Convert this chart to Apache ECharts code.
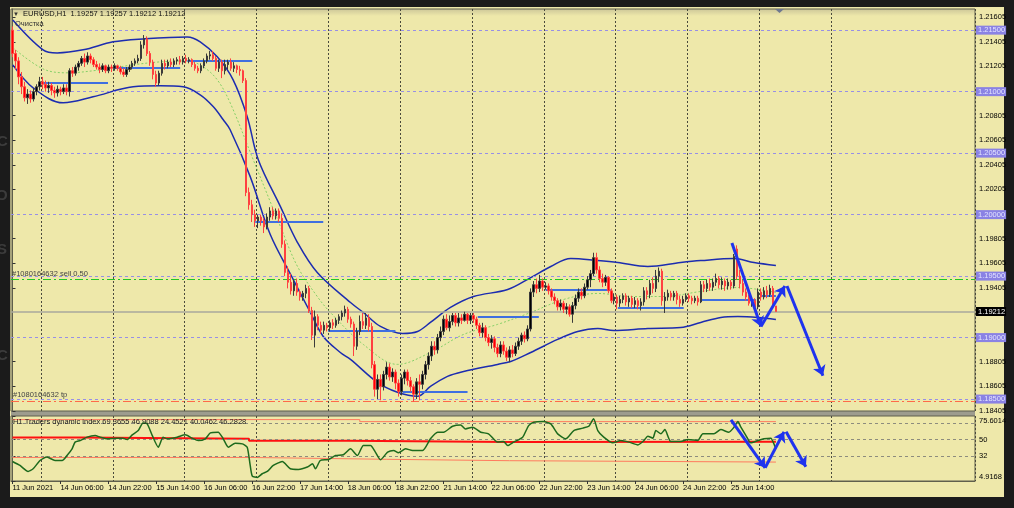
<!DOCTYPE html>
<html><head><meta charset="utf-8">
<script src="https://cdn.jsdelivr.net/npm/echarts@6.0.0/dist/echarts.min.js"></script>
<style>html,body{margin:0;padding:0;background:#1b1b1b;}#c{width:1014px;height:508px;}</style>
</head><body><div id="c"></div>
<script>
// ---------- data ----------
const timeLabels = ['11 Jun 2021','14 Jun 06:00','14 Jun 22:00','15 Jun 14:00','16 Jun 06:00','16 Jun 22:00','17 Jun 14:00','18 Jun 06:00','18 Jun 22:00','21 Jun 14:00','22 Jun 06:00','22 Jun 22:00','23 Jun 14:00','24 Jun 06:00','24 Jun 22:00','25 Jun 14:00'];
const dayStarts = [10,34,58,82,106,130,154,178,202,226,250,274];
const priceTicks = [1.21605,1.21405,1.21205,1.20805,1.20605,1.20405,1.20205,1.19805,1.19605,1.19405,1.18805,1.18605,1.18405];
const alertLevels = [1.215,1.21,1.205,1.2,1.195,1.19,1.185];
const bidPrice = 1.19212;
const sellPrice = 1.19476;
const tpPrice = 1.18484;

const opens = [1.2150,1.2131,1.2125,1.2112,1.2104,1.2095,1.2098,1.2094,1.2100,1.2104,1.2108,1.2106,1.2103,1.2105,1.2101,1.2099,1.2102,1.2100,1.2103,1.2100,
1.2117,1.2115,1.2120,1.2123,1.2127,1.2124,1.2129,1.2126,1.2122,1.2120,1.2118,1.2121,1.2117,1.2120,1.2119,1.2121,1.2119,1.2116,1.2114,1.2118,
1.2120,1.2123,1.2125,1.2127,1.2138,1.2143,1.2131,1.2124,1.2114,1.2107,1.2115,1.2123,1.2121,1.2124,1.2122,1.2125,1.2126,1.2124,1.2127,1.2125,
1.2126,1.2122,1.2119,1.2117,1.2121,1.2125,1.2129,1.2130,1.2127,1.2119,1.2124,1.2117,1.2122,1.2124,1.2119,1.2121,1.2118,1.2117,1.2109,1.2018,
1.2008,1.2000,1.1995,1.1998,1.1995,1.1990,1.1998,1.2003,1.1999,1.2003,1.1997,1.1976,1.1953,1.1945,1.1938,1.1944,1.1937,1.1933,1.1936,1.1940,
1.1922,1.1902,1.1917,1.1910,1.1906,1.1910,1.1908,1.1912,1.1910,1.1914,1.1917,1.1920,1.1923,1.1915,1.1911,1.1893,1.1905,1.1913,1.1910,1.1916,
1.1909,1.1878,1.1858,1.1866,1.1860,1.1870,1.1876,1.1868,1.1872,1.1863,1.1856,1.1867,1.1872,1.1865,1.1860,1.1854,1.1864,1.1862,1.1870,1.1878,
1.1885,1.1893,1.1890,1.1900,1.1905,1.1915,1.1908,1.1913,1.1918,1.1912,1.1916,1.1914,1.1919,1.1914,1.1918,1.1915,1.1910,1.1904,1.1908,1.1900,
1.1896,1.1899,1.1892,1.1887,1.1894,1.1889,1.1884,1.1890,1.1887,1.1893,1.1897,1.1902,1.1899,1.1907,1.1937,1.1943,1.1940,1.1946,1.1941,1.1942,
1.1938,1.1933,1.1930,1.1925,1.1928,1.1923,1.1925,1.1919,1.1926,1.1932,1.1937,1.1934,1.1941,1.1947,1.1952,1.1965,1.1955,1.1948,1.1945,1.1949,
1.1938,1.1930,1.1933,1.1928,1.1931,1.1934,1.1929,1.1932,1.1927,1.1930,1.1926,1.1929,1.1938,1.1935,1.1944,1.1940,1.1950,1.1954,1.1930,1.1933,
1.1936,1.1933,1.1936,1.1931,1.1928,1.1931,1.1934,1.1932,1.1930,1.1932,1.1929,1.1943,1.1940,1.1944,1.1941,1.1945,1.1948,1.1943,1.1946,1.1942,
1.1945,1.1942,1.1972,1.1950,1.1944,1.1937,1.1933,1.1928,1.1930,1.1925,1.1937,1.1933,1.1938,1.1935,1.1940,1.19257];
const closes = [1.2131,1.2125,1.2112,1.2104,1.2095,1.2098,1.2094,1.2100,1.2104,1.2108,1.2106,1.2103,1.2105,1.2101,1.2099,1.2102,1.2100,1.2103,1.2100,1.2117,
1.2115,1.2120,1.2123,1.2127,1.2124,1.2129,1.2126,1.2122,1.2120,1.2118,1.2121,1.2117,1.2120,1.2119,1.2121,1.2119,1.2116,1.2114,1.2118,1.2120,
1.2123,1.2125,1.2127,1.2138,1.2143,1.2131,1.2124,1.2114,1.2107,1.2115,1.2123,1.2121,1.2124,1.2122,1.2125,1.2126,1.2124,1.2127,1.2125,1.2126,
1.2122,1.2119,1.2117,1.2121,1.2125,1.2129,1.2130,1.2127,1.2119,1.2124,1.2117,1.2122,1.2124,1.2119,1.2121,1.2118,1.2117,1.2109,1.2018,1.2008,
1.2000,1.1995,1.1998,1.1995,1.1990,1.1998,1.2003,1.1999,1.2003,1.1997,1.1976,1.1953,1.1945,1.1938,1.1944,1.1937,1.1933,1.1936,1.1940,1.1922,
1.1902,1.1917,1.1910,1.1906,1.1910,1.1908,1.1912,1.1910,1.1914,1.1917,1.1920,1.1923,1.1915,1.1911,1.1893,1.1905,1.1913,1.1910,1.1916,1.1909,
1.1878,1.1858,1.1866,1.1860,1.1870,1.1876,1.1868,1.1872,1.1863,1.1856,1.1867,1.1872,1.1865,1.1860,1.1854,1.1864,1.1862,1.1870,1.1878,1.1885,
1.1893,1.1890,1.1900,1.1905,1.1915,1.1908,1.1913,1.1918,1.1912,1.1916,1.1914,1.1919,1.1914,1.1918,1.1915,1.1910,1.1904,1.1908,1.1900,1.1896,
1.1899,1.1892,1.1887,1.1894,1.1889,1.1884,1.1890,1.1887,1.1893,1.1897,1.1902,1.1899,1.1907,1.1937,1.1943,1.1940,1.1946,1.1941,1.1942,1.1938,
1.1933,1.1930,1.1925,1.1928,1.1923,1.1925,1.1919,1.1926,1.1932,1.1937,1.1934,1.1941,1.1947,1.1952,1.1965,1.1955,1.1948,1.1945,1.1949,1.1938,
1.1930,1.1933,1.1928,1.1931,1.1934,1.1929,1.1932,1.1927,1.1930,1.1926,1.1929,1.1938,1.1935,1.1944,1.1940,1.1950,1.1954,1.1930,1.1933,1.1936,
1.1933,1.1936,1.1931,1.1928,1.1931,1.1934,1.1932,1.1930,1.1932,1.1929,1.1943,1.1940,1.1944,1.1941,1.1945,1.1948,1.1943,1.1946,1.1942,1.1945,
1.1942,1.1966,1.1950,1.1944,1.1937,1.1933,1.1928,1.1930,1.1925,1.1937,1.1933,1.1938,1.1935,1.1940,1.1926,1.19212];
const lows = [1.2128,1.2118,1.2106,1.2098,1.2092,1.2090,1.2091,1.2092,1.2097,1.2101,1.2102,1.2100,1.2099,1.2097,1.2095,1.2096,1.2097,1.2098,1.2097,1.2096,
1.2112,1.2113,1.2117,1.2121,1.2120,1.2122,1.2123,1.2120,1.2118,1.2115,1.2116,1.2115,1.2115,1.2116,1.2117,1.2117,1.2114,1.2112,1.2112,1.2116,
1.2118,1.2121,1.2123,1.2125,1.2135,1.2129,1.2121,1.2110,1.2104,1.2105,1.2113,1.2118,1.2119,1.2120,1.2120,1.2122,1.2122,1.2122,1.2123,1.2123,
1.2120,1.2117,1.2115,1.2115,1.2119,1.2123,1.2126,1.2125,1.2117,1.2116,1.2111,1.2114,1.2118,1.2117,1.2116,1.2115,1.2113,1.2107,1.2015,1.2004,
1.1994,1.1990,1.1989,1.1991,1.1985,1.1988,1.1995,1.1996,1.1996,1.1994,1.1973,1.1950,1.1940,1.1935,1.1934,1.1934,1.1930,1.1930,1.1932,1.1920,
1.1898,1.1892,1.1906,1.1903,1.1903,1.1905,1.1905,1.1907,1.1908,1.1911,1.1914,1.1917,1.1912,1.1908,1.1885,1.1890,1.1902,1.1907,1.1907,1.1905,
1.1875,1.1852,1.1850,1.1849,1.1857,1.1866,1.1865,1.1864,1.1858,1.1852,1.1853,1.1862,1.1861,1.1856,1.1848,1.1850,1.1849,1.1858,1.1866,1.1874,
1.1881,1.1886,1.1887,1.1897,1.1902,1.1906,1.1905,1.1910,1.1909,1.1909,1.1911,1.1913,1.1911,1.1911,1.1912,1.1907,1.1901,1.1900,1.1897,1.1893,
1.1891,1.1888,1.1884,1.1884,1.1886,1.1881,1.1880,1.1884,1.1885,1.1890,1.1894,1.1896,1.1897,1.1905,1.1933,1.1936,1.1937,1.1938,1.1939,1.1935,
1.1930,1.1927,1.1922,1.1922,1.1920,1.1919,1.1917,1.1912,1.1923,1.1929,1.1931,1.1932,1.1939,1.1941,1.1950,1.1952,1.1945,1.1941,1.1942,1.1936,
1.1928,1.1927,1.1923,1.1925,1.1928,1.1926,1.1925,1.1924,1.1924,1.1923,1.1922,1.1926,1.1931,1.1932,1.1936,1.1937,1.1945,1.1926,1.1920,1.1930,
1.1930,1.1930,1.1927,1.1925,1.1926,1.1929,1.1929,1.1927,1.1928,1.1926,1.1928,1.1937,1.1937,1.1938,1.1938,1.1942,1.1940,1.1939,1.1938,1.1939,
1.1939,1.1940,1.1947,1.1940,1.1934,1.1930,1.1926,1.1925,1.1922,1.1923,1.1930,1.1931,1.1932,1.1933,1.1924,1.19212];
const highs = [1.2153,1.2134,1.2128,1.2116,1.2108,1.2102,1.2101,1.2103,1.2106,1.2112,1.2112,1.2109,1.2108,1.2107,1.2104,1.2105,1.2104,1.2106,1.2106,1.2119,
1.2120,1.2122,1.2125,1.2129,1.2131,1.2132,1.2131,1.2128,1.2125,1.2123,1.2123,1.2122,1.2122,1.2122,1.2123,1.2122,1.2121,1.2119,1.2120,1.2122,
1.2125,1.2127,1.2130,1.2141,1.2146,1.2145,1.2133,1.2126,1.2117,1.2117,1.2126,1.2126,1.2126,1.2127,1.2127,1.2128,1.2129,1.2129,1.2130,1.2128,
1.2127,1.2124,1.2121,1.2123,1.2127,1.2131,1.2133,1.2133,1.2129,1.2126,1.2126,1.2126,1.2126,1.2127,1.2124,1.2122,1.2121,1.2118,1.2111,1.2022,
1.2012,1.2004,1.2000,1.2000,1.1997,1.2001,1.2006,1.2006,1.2005,1.2005,1.2001,1.1979,1.1958,1.1952,1.1947,1.1948,1.1939,1.1938,1.1943,1.1942,
1.1925,1.1922,1.1919,1.1913,1.1913,1.1912,1.1914,1.1915,1.1916,1.1919,1.1922,1.1926,1.1925,1.1917,1.1913,1.1908,1.1918,1.1920,1.1920,1.1919,
1.1912,1.1881,1.1870,1.1870,1.1873,1.1880,1.1879,1.1875,1.1874,1.1866,1.1870,1.1874,1.1874,1.1868,1.1862,1.1867,1.1870,1.1873,1.1881,1.1888,
1.1897,1.1897,1.1903,1.1909,1.1918,1.1919,1.1918,1.1920,1.1920,1.1920,1.1919,1.1921,1.1920,1.1920,1.1920,1.1917,1.1912,1.1912,1.1910,1.1903,
1.1902,1.1901,1.1895,1.1897,1.1897,1.1892,1.1893,1.1894,1.1896,1.1900,1.1904,1.1905,1.1910,1.1940,1.1946,1.1948,1.1951,1.1948,1.1945,1.1944,
1.1940,1.1936,1.1932,1.1931,1.1930,1.1928,1.1927,1.1929,1.1935,1.1940,1.1940,1.1944,1.1950,1.1955,1.1969,1.1969,1.1958,1.1952,1.1951,1.1950,
1.1940,1.1936,1.1935,1.1934,1.1936,1.1936,1.1934,1.1934,1.1933,1.1932,1.1932,1.1941,1.1941,1.1947,1.1949,1.1955,1.1957,1.1956,1.1937,1.1939,
1.1938,1.1938,1.1938,1.1934,1.1934,1.1936,1.1936,1.1934,1.1934,1.1934,1.1946,1.1946,1.1947,1.1948,1.1948,1.1952,1.1950,1.1949,1.1948,1.1948,
1.1947,1.1968,1.1975,1.1955,1.1947,1.1940,1.1935,1.1933,1.1932,1.1940,1.1940,1.1941,1.1942,1.1943,1.1942,1.19257];

// Bollinger-style envelope: [bar index, price]
const bandUpper = [[0.1,1.21583],[10.2,1.21340],[14.9,1.21315],[23.6,1.21340],[33.6,1.21405],[43.6,1.21429],[58.4,1.21445],[62.7,1.21405],[68.4,1.21283],[73.7,1.21096],[78.4,1.20796],[82.1,1.20447],[89.5,1.20065],[95.2,1.19773],[101.8,1.19529],[112.9,1.19285],[117.2,1.19204],[122.9,1.19091],[130.3,1.19034],[135.3,1.19050],[139.6,1.19123],[146.3,1.19245],[154,1.19334],[165.4,1.19391],[173.1,1.19488],[179.8,1.19578],[186.5,1.19643],[195.5,1.19626],[202.2,1.19610],[212.2,1.19578],[223.2,1.19610],[229.9,1.19626],[241,1.19643],[247.7,1.19610],[255,1.19586]];
const bandLower = [[0.1,1.21218],[6.9,1.21031],[16.9,1.20909],[26.9,1.20958],[40.3,1.21039],[49.3,1.21047],[57,1.21039],[62.7,1.20974],[67.1,1.20877],[70.4,1.20771],[72.7,1.20690],[79.4,1.20309],[86.1,1.19838],[93.8,1.19472],[99.5,1.19204],[103.8,1.19009],[109.5,1.18879],[112.9,1.18823],[121.9,1.18636],[128.6,1.18555],[135.3,1.18522],[139.6,1.18603],[145.3,1.18685],[150.7,1.18725],[162,1.18782],[166.4,1.18806],[173.1,1.18879],[182.1,1.18985],[188.8,1.19050],[195.5,1.19074],[200.8,1.19058],[212.2,1.19074],[223.2,1.19082],[229.9,1.19123],[236.6,1.19164],[242.3,1.19172],[249,1.19164],[255,1.19147]];
const bandMid = [[0.2,1.21356],[10.2,1.21185],[18.2,1.21153],[29.3,1.21177],[40.3,1.21218],[49.3,1.21242],[58.4,1.21250],[63.7,1.21202],[68.4,1.21096],[72.7,1.20909],[80.4,1.20447],[89.5,1.19903],[95.2,1.19578],[101.8,1.19334],[106.2,1.19204],[117.2,1.18944],[128.6,1.18782],[139.6,1.18879],[150.7,1.19026],[162,1.19107],[173.1,1.19204],[184.1,1.19310],[195.5,1.19359],[206.5,1.19334],[217.6,1.19334],[229.9,1.19375],[242.3,1.19407],[255,1.19367]];

// horizontal pivot segments
const pivotStart = [9.9,33.6,58.4,81.1,105.5,130.3,155.4,178.1,202.2,229.6,250];
const pivotEnd   = [31.9,56,80.1,103.8,127.9,152,175.8,199.8,224.2,248.3,255];
const pivotPrice = [1.21072,1.21194,1.21250,1.19943,1.19058,1.18563,1.19172,1.19391,1.19245,1.19310,1.19342];

// hand-drawn arrows: [bar index, price]
const priceArrows = [[[240.3,1.1977],[250,1.1909]],[[250,1.1909],[258,1.1942]],[[258.7,1.1942],[270.7,1.1869]]];
const tdiArrows = [[[240,71.4],[251.4,19.3]],[[251.4,19.3],[257.7,58.4]],[[258.4,58.4],[265,20.4]]];

// Traders Dynamic Index
const tdiIdx = [0,2.5,5.2,6.9,9.2,11.5,14.2,16.6,18.2,19.9,20.9,22.6,24.9,27.6,29.3,31.6,35,36.8,38.3,40,42,43.6,45,46.7,48.7,50.3,51.7,55,57.7,60,62,64.4,66.1,68.7,70.4,72.1,74.4,76.8,78.4,79.4,80.1,81.8,83.4,85.1,87.1,90.1,92.8,95.5,98.5,100.2,101.2,102.8,105.5,107.9,110.5,112.9,115.2,117.2,119.6,121.2,122.9,125.3,127.3,128.9,131.3,133.6,137,139.6,142,144,147,149.7,151.3,153.7,156.4,159,162,164,165.4,167.4,170.4,172.4,174.1,177.4,179.8,182.1,184.8,187.5,190.5,192.5,194.1,195.5,197.5,200.5,203.2,205.9,208.9,210.9,212.2,213.9,214.9,216.6,217.9,219.9,223.2,225.6,228.9,230.6,234.3,236.6,239.3,241,242.3,243.3,245,246.6,249,251,253.3,254.5,255];
const tdiVal = [26.1,21.8,15.3,18.2,27.2,30.9,27.2,27.2,32.6,39.9,47.2,48.9,52.6,54.3,52.6,50.8,51.5,51.5,50,55.1,59.8,68.1,67,54.3,41.7,52.6,50.8,52.6,55.1,51.5,48.9,50.8,57.3,58,50.8,41.7,46.1,45.3,41.7,21.8,10.3,8.8,12.8,15.3,21.8,26.1,18.2,17.5,20.1,23.6,18.2,27.2,28.3,32.6,33.4,39.9,32.6,43.5,43.5,36.3,28,36.3,38.1,35.6,39.9,38.1,38.1,50.8,58,58,64.5,65.9,61.6,63.4,58,56.2,47.2,47.8,43.5,47.2,52.6,65.2,68.9,69.5,67,56.2,50.8,59.8,62.4,64.5,72.5,59.8,52.6,46.4,48.9,47.2,44.2,48.9,53.7,51.5,59.8,56.2,60.8,47.8,47.8,50,48.9,56.2,56.2,60.8,58,63.4,69.5,63.4,54.3,46.4,48.9,50.8,51.5,44,40.05];
const tdiBase  = [[0,52.2],[22,50.8],[79,48.6],[112,47.3],[166,47.6],[255,46.9]];
const tdiUpper = [[0,71.7],[116,69.5],[255,69.37]];
const tdiLower = [[0,30.5],[80,28.5],[125,27],[166,25.5],[255,25.3]];
const tdiLevels = [68,50,32];
const tdiMax = 75.6014, tdiMin = 4.9168;
const headerText = 'EURUSD,H1  1.19257 1.19257 1.19212 1.19212';
const tdiText = 'H1 Traders dynamic index 69.3655 46.9088 24.4521 40.0462 46.2828';

// ---------- chart ----------
const N = 322; // bar slots visible across the plot (incl. empty right shift)
const cats = Array.from({length: N}, (_, i) => i);
const FONT = 'Liberation Sans';
const candleData = opens.map((o, i) => [o, closes[i], lows[i], highs[i]]);
const isDay = (i) => dayStarts.indexOf(i) >= 0;
const tdiScale = [tdiMax, 68, 50, 32, tdiMin];

const purple = {type: [3, 3], color: '#978fe6', width: 1};
const markData = alertLevels.map(v => ({
  yAxis: v, lineStyle: purple,
  label: {show: true, position: 'end', distance: 1, formatter: v.toFixed(5), backgroundColor: '#8a82e4', color: '#e4e4ff', padding: [1, 1, 0, 2], fontSize: 7.5, fontFamily: FONT}
}));
markData.push({yAxis: sellPrice, lineStyle: {type: [8, 3, 2, 3], color: '#22c722', width: 1},
  label: {show: true, position: 'insideStartTop', distance: 1, formatter: '#1080164632 sell 0.50', color: '#444', fontSize: 7.5, fontFamily: FONT}});
markData.push({yAxis: tpPrice, lineStyle: {type: [8, 3, 2, 3], color: '#ff6a48', width: 1},
  label: {show: true, position: 'insideStartTop', distance: 2, formatter: '#1080164632 tp', color: '#444', fontSize: 7.5, fontFamily: FONT}});
markData.push({yAxis: bidPrice, lineStyle: {type: 'solid', color: '#a9a89c', width: 1.5},
  label: {show: true, position: 'end', distance: 1, formatter: bidPrice.toFixed(5), backgroundColor: '#000', color: '#fff', padding: [1, 1, 0, 2], fontSize: 7.5, fontFamily: FONT}});

const chart = echarts.init(document.getElementById('c'), null, {renderer: 'canvas'});
chart.setOption({
  animation: false,
  backgroundColor: '#1b1b1b',
  textStyle: {fontFamily: FONT},
  title: [
    {text: '{a|▼}  ' + headerText, left: 13, top: 10, padding: 0,
     textStyle: {fontSize: 7.5, fontWeight: 'normal', color: '#111', fontFamily: FONT, rich: {a: {fontSize: 6, color: '#333'}}}},
    {text: 'Очистка', left: 15, top: 20, padding: 0, textStyle: {fontSize: 7.5, fontWeight: 'normal', color: '#333', fontFamily: FONT}},
    {text: tdiText, left: 13, top: 418, padding: 0, textStyle: {fontSize: 7.5, fontWeight: 'normal', color: '#222', fontFamily: FONT}}
  ],
  graphic: [
    {type: 'rect', z: -10, silent: true, shape: {x: 10, y: 7, width: 994, height: 490}, style: {fill: '#eee8aa'}},
    {type: 'rect', z: -9, silent: true, shape: {x: 11, y: 9, width: 964, height: 7},
     style: {fill: new echarts.graphic.LinearGradient(0, 0, 0, 1, [{offset: 0, color: '#cdc799'}, {offset: 1, color: '#eee8aa'}])}},
    {type: 'rect', z: -8, silent: true, shape: {x: 11, y: 411, width: 964, height: 5}, style: {fill: '#9d9c8e'}},
    {type: 'polygon', z: 5, silent: true, shape: {points: [[775, 9], [784, 9], [779.5, 13]]}, style: {fill: '#6f7890'}},
    {type: 'text', silent: true, x: -3, y: 134, style: {text: 'C', fill: '#3c3c3c', font: 'bold 15px Liberation Sans'}},
    {type: 'text', silent: true, x: -4, y: 188, style: {text: 'O', fill: '#3c3c3c', font: 'bold 15px Liberation Sans'}},
    {type: 'text', silent: true, x: -3, y: 242, style: {text: 'S', fill: '#3c3c3c', font: 'bold 15px Liberation Sans'}},
    {type: 'text', silent: true, x: -3, y: 348, style: {text: 'C', fill: '#3c3c3c', font: 'bold 15px Liberation Sans'}}
  ],
  grid: [
    {left: 11, top: 9, width: 964, height: 402, show: true, borderColor: '#5f5f4c', borderWidth: 1, backgroundColor: 'transparent'},
    {left: 11, top: 416, width: 964, height: 65, show: true, borderColor: '#5f5f4c', borderWidth: 1, backgroundColor: 'transparent'}
  ],
  xAxis: [
    {type: 'category', gridIndex: 0, data: cats, boundaryGap: true,
     axisLine: {show: false}, axisTick: {show: false}, axisLabel: {show: false},
     splitLine: {show: true, interval: (i) => isDay(i), lineStyle: {type: [2, 2], color: '#4a4a3c', width: 1}}},
    {type: 'category', gridIndex: 1, data: cats, boundaryGap: true,
     axisLine: {show: true, lineStyle: {color: '#5f5f4c'}},
     axisTick: {show: true, alignWithLabel: true, length: 3, interval: (i) => i % 16 === 0 && i / 16 < timeLabels.length, lineStyle: {color: '#333'}},
     axisLabel: {show: true, interval: (i) => i % 16 === 0 && i / 16 < timeLabels.length, align: 'left', margin: 3,
       formatter: (v, i) => timeLabels[i / 16] || '', fontSize: 7.5, color: '#000', fontFamily: FONT},
     splitLine: {show: true, interval: (i) => isDay(i), lineStyle: {type: [2, 2], color: '#4a4a3c', width: 1}}},
    {type: 'value', gridIndex: 0, min: -0.5, max: N - 0.5, show: false},
    {type: 'value', gridIndex: 1, min: -0.5, max: N - 0.5, show: false}
  ],
  yAxis: [
    {type: 'value', gridIndex: 0, position: 'right', min: 1.18403, max: 1.21672, scale: true,
     axisLine: {show: true, lineStyle: {color: '#5f5f4c'}},
     axisTick: {show: true, length: 3, customValues: priceTicks, lineStyle: {color: '#333'}},
     axisLabel: {show: true, customValues: priceTicks, margin: 4, formatter: (v) => v.toFixed(5), fontSize: 7.5, color: '#000', fontFamily: FONT},
     splitLine: {show: false}},
    {type: 'value', gridIndex: 1, position: 'right', min: tdiMin - 0.01, max: tdiMax + 0.01,
     axisLine: {show: true, lineStyle: {color: '#5f5f4c'}},
     axisTick: {show: true, length: 3, customValues: tdiScale, lineStyle: {color: '#333'}},
     axisLabel: {show: true, customValues: tdiScale, margin: 4, fontSize: 7.5, color: '#000', fontFamily: FONT, showMaxLabel: true, showMinLabel: true,
       formatter: (v) => v === tdiMax ? '{t|' + tdiMax + '}' : (v === tdiMin ? '{b|' + tdiMin + '}' : String(v)),
       rich: {t: {padding: [9, 0, 0, 0], fontSize: 7.5}, b: {padding: [0, 0, 9, 0], fontSize: 7.5}}},
     splitLine: {show: false}}
  ],
  series: [
    {type: 'line', name: 'upper', xAxisIndex: 2, yAxisIndex: 0, data: bandUpper, smooth: 0.35, symbol: 'none',
     lineStyle: {color: '#1c2cb0', width: 1.5}, z: 3},
    {type: 'line', name: 'lower', xAxisIndex: 2, yAxisIndex: 0, data: bandLower, smooth: 0.35, symbol: 'none',
     lineStyle: {color: '#1c2cb0', width: 1.5}, z: 3},
    {type: 'line', name: 'mid', xAxisIndex: 2, yAxisIndex: 0, data: bandMid, smooth: 0.35, symbol: 'none',
     lineStyle: {color: '#86d068', width: 1, type: [2, 2]}, z: 3},
    {type: 'lines', name: 'pivots', coordinateSystem: 'cartesian2d', xAxisIndex: 2, yAxisIndex: 0, z: 4,
     data: pivotPrice.map((p, k) => ({coords: [[pivotStart[k], p], [pivotEnd[k], p]]})),
     lineStyle: {color: '#3f6fe0', width: 2, opacity: 1}},
    {type: 'candlestick', name: 'EURUSD', xAxisIndex: 0, yAxisIndex: 0, data: candleData, barWidth: 2, z: 5,
     itemStyle: {color: '#000000', color0: '#ff0000', borderColor: '#3a3a3a', borderColor0: '#ff4040', borderWidth: 1},
     markLine: {silent: true, symbol: 'none', animation: false, precision: 5, data: markData}},
    {type: 'lines', name: 'arrowsMain', coordinateSystem: 'cartesian2d', xAxisIndex: 2, yAxisIndex: 0, z: 8,
     data: priceArrows.map(c => ({coords: c})), symbol: ['none', 'arrow'], symbolSize: 10,
     lineStyle: {color: '#1f33ee', width: 3, opacity: 1}},
    {type: 'line', name: 'tdiUpper', xAxisIndex: 3, yAxisIndex: 1, data: tdiUpper, step: 'end', symbol: 'none',
     lineStyle: {color: '#ff7b5e', width: 1}, z: 3,
     markLine: {silent: true, symbol: 'none', label: {show: false}, lineStyle: {type: [3, 3], color: '#8d8c7e', width: 1},
       data: tdiLevels.map(v => ({yAxis: v}))}},
    {type: 'line', name: 'tdiLower', xAxisIndex: 3, yAxisIndex: 1, data: tdiLower, step: 'end', symbol: 'none',
     lineStyle: {color: '#ff7b5e', width: 1}, z: 3},
    {type: 'line', name: 'tdiBase', xAxisIndex: 3, yAxisIndex: 1, data: tdiBase, step: 'end', symbol: 'none',
     lineStyle: {color: '#ff1010', width: 2}, z: 4},
    {type: 'line', name: 'tdiRSI', xAxisIndex: 3, yAxisIndex: 1, data: tdiIdx.map((x, k) => [x, tdiVal[k]]), symbol: 'none',
     smooth: 0.2, lineStyle: {color: '#1d6a1d', width: 1.5}, z: 5},
    {type: 'lines', name: 'arrowsTdi', coordinateSystem: 'cartesian2d', xAxisIndex: 3, yAxisIndex: 1, z: 8,
     data: tdiArrows.map(c => ({coords: c})), symbol: ['none', 'arrow'], symbolSize: 10,
     lineStyle: {color: '#1f33ee', width: 3, opacity: 1}}
  ]
});
</script>
</body></html>
